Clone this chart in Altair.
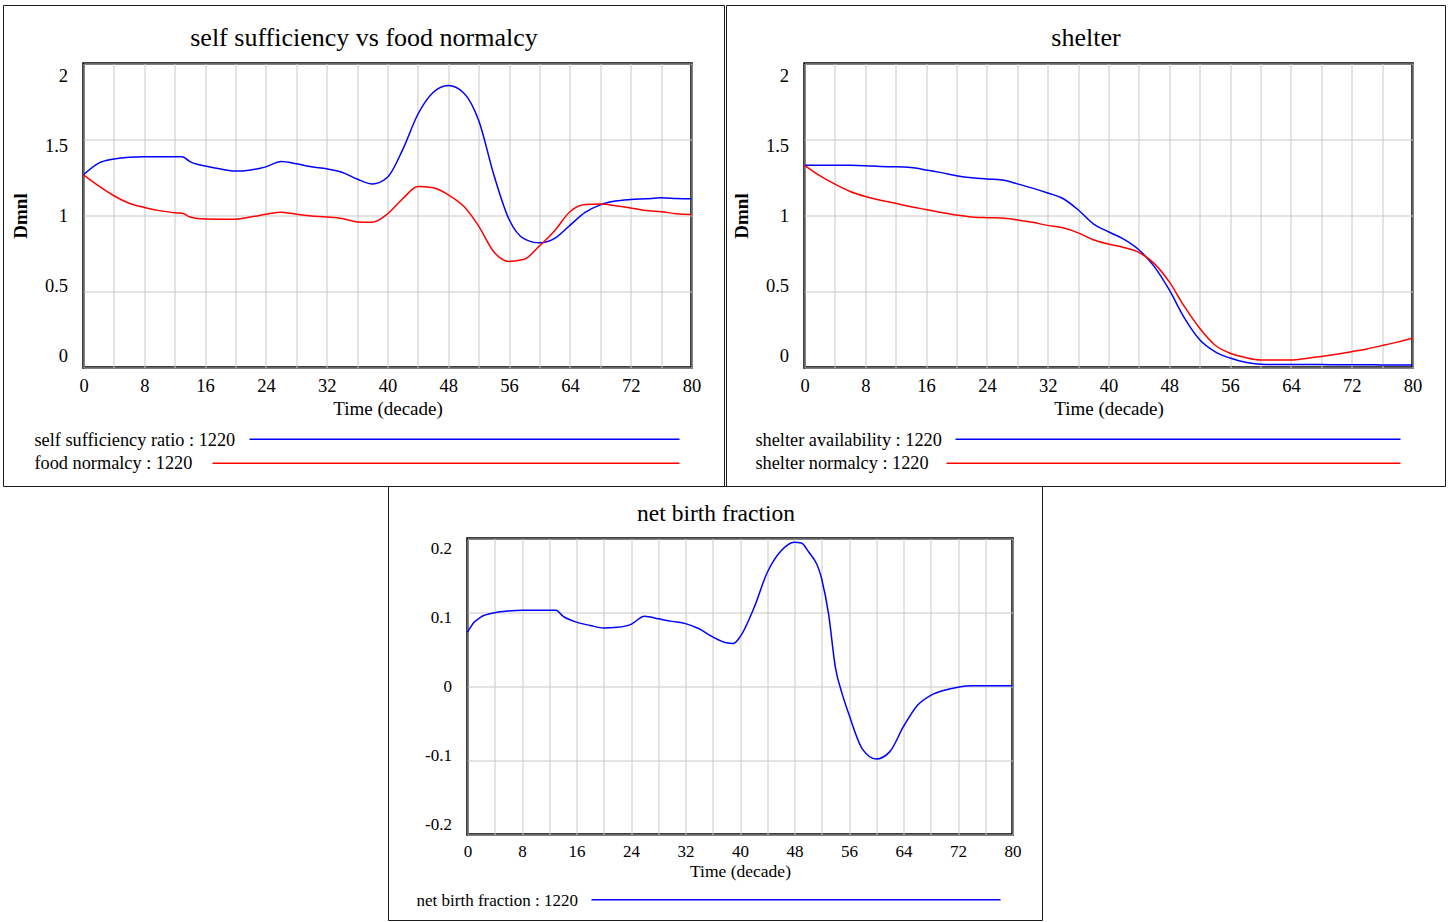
import altair as alt
import pandas as pd

FONT = "Liberation Serif"
BLUE = "#0000ff"
RED = "#ff0000"

# ---------------- data ----------------
# panel 1: self sufficiency vs food normalcy
t_food = [0, 2, 4, 6, 8, 10, 12, 13, 14, 16, 18, 20, 22, 24, 26, 28, 30, 32, 34, 36, 38, 40,
          42, 44, 46, 48, 50, 52, 54, 56, 58, 60, 62, 64, 66, 68, 70, 72, 74, 76, 78, 80]
self_sufficiency_ratio = [1.268, 1.345, 1.372, 1.384, 1.387, 1.387, 1.387, 1.387, 1.355, 1.325,
                          1.306, 1.292, 1.300, 1.320, 1.355, 1.340, 1.320, 1.307, 1.285, 1.240,
                          1.208, 1.252, 1.433, 1.666, 1.809, 1.855, 1.808, 1.625, 1.266, 0.974,
                          0.846, 0.820, 0.850, 0.935, 1.020, 1.070, 1.095, 1.105, 1.110, 1.116,
                          1.112, 1.110]
food_normalcy = [1.268, 1.195, 1.130, 1.081, 1.053, 1.032, 1.018, 1.015, 0.990, 0.977, 0.976,
                 0.976, 0.990, 1.008, 1.022, 1.008, 0.997, 0.990, 0.980, 0.958, 0.955, 1.010,
                 1.110, 1.190, 1.182, 1.136, 1.062, 0.930, 0.760, 0.698, 0.712, 0.800, 0.900,
                 1.025, 1.072, 1.075, 1.064, 1.050, 1.033, 1.025, 1.012, 1.007]

# panel 2: shelter
t_shelter = [0, 2, 4, 6, 8, 10, 12, 14, 16, 18, 20, 22, 24, 26, 28, 30, 32, 34, 36, 38, 40,
             42, 44, 46, 48, 50, 52, 54, 56, 58, 60, 62, 64, 66, 68, 70, 72, 74, 76, 78, 80]
shelter_availability = [1.330, 1.330, 1.330, 1.330, 1.328, 1.322, 1.321, 1.316, 1.300, 1.282,
                        1.262, 1.248, 1.240, 1.234, 1.208, 1.180, 1.148, 1.112, 1.038, 0.945,
                        0.893, 0.845, 0.775, 0.665, 0.510, 0.325, 0.183, 0.105, 0.062, 0.034,
                        0.022, 0.020, 0.020, 0.019, 0.019, 0.018, 0.018, 0.018, 0.017, 0.017,
                        0.017]
shelter_normalcy = [1.330, 1.262, 1.206, 1.158, 1.125, 1.100, 1.080, 1.058, 1.039, 1.020, 1.003,
                    0.990, 0.986, 0.984, 0.971, 0.955, 0.935, 0.919, 0.886, 0.840, 0.812, 0.790,
                    0.757, 0.685, 0.563, 0.400, 0.258, 0.148, 0.094, 0.066, 0.050, 0.050, 0.050,
                    0.060, 0.072, 0.087, 0.104, 0.122, 0.144, 0.167, 0.193]

# panel 3: net birth fraction
t_birth = [0, 1, 2, 4, 6, 8, 10, 12, 13, 14, 16, 18, 20, 22, 24, 26, 28, 30, 32, 34, 36, 38, 39,
           40, 42, 44, 46, 48, 49, 50, 52, 53, 54, 55, 56, 58, 60, 62, 64, 66, 68, 70, 72, 74,
           76, 78, 80]
net_birth_fraction = [0.0735, 0.087, 0.094, 0.0996, 0.102, 0.103, 0.103, 0.103, 0.103, 0.095,
                      0.087, 0.0825, 0.079, 0.080, 0.084, 0.095, 0.0915, 0.088, 0.085, 0.078,
                      0.067, 0.059, 0.058, 0.067, 0.105, 0.154, 0.183, 0.195, 0.194, 0.183,
                      0.145, 0.098, 0.026, -0.010, -0.038, -0.085, -0.098, -0.088, -0.054,
                      -0.026, -0.012, -0.005, -0.001, 0.001, 0.001, 0.001, 0.001]

titles = ["self sufficiency vs food normalcy", "shelter", "net birth fraction"]
series_food = ["self sufficiency ratio : 1220", "food normalcy : 1220"]
series_shelter = ["shelter availability : 1220", "shelter normalcy : 1220"]
series_birth = ["net birth fraction : 1220"]
x_ticks = list(range(0, 81, 4))
y_ticks_top = [0, 0.5, 1, 1.5, 2]
y_ticks_bottom = [-0.2, -0.1, 0, 0.1, 0.2]
x_title = "Time (decade)"
y_title = "Dmnl"


def long_df(t, series):
    rows = []
    for name, vals in series:
        for ti, vi in zip(t, vals):
            rows.append({"t": ti, "v": vi, "s": name})
    return pd.DataFrame(rows)


def one():
    return alt.Data(values=[{"k": 0}])


def offset_cond(pairs):
    return {"condition": [{"test": f"datum.value == {v}", "value": o} for v, o in pairs],
            "value": 0}


def panel(df, names, colors, title, W, H, frame, title_xy, title_size, ydom, yvals, yoff,
          ytitle, fs_lab, fs_title, x_lab_pad, x_title_pad, legend_rows, legend_fs, legend_x):
    fx1, fx2, fy1, fy2 = frame
    layers = [
        alt.Chart(one()).mark_rect(fillOpacity=0, stroke="#1a1a1a", strokeWidth=1).encode(
            x=alt.value(fx1), x2=alt.value(fx2), y=alt.value(fy1), y2=alt.value(fy2)),
        alt.Chart(one()).mark_text(text=title, font=FONT, fontSize=title_size, align="center",
                                   baseline="alphabetic", color="black").encode(
            x=alt.value(title_xy[0]), y=alt.value(title_xy[1])),
    ]
    yax = dict(values=yvals, labelExpr="'' + datum.value", labelFont=FONT, labelFontSize=fs_lab,
               labelPadding=16, labelOffset=yoff, title=ytitle)
    if ytitle:
        yax.update(titleFont=FONT, titleFontSize=fs_title, titleFontWeight="bold",
                   titlePadding=14)
    xax = dict(values=x_ticks,
               labelExpr="datum.value % 8 == 0 ? '' + datum.value : ''",
               labelFont=FONT, labelFontSize=fs_lab, labelPadding=x_lab_pad,
               title=x_title, titleFont=FONT, titleFontSize=fs_title, titleFontWeight="normal",
               titlePadding=x_title_pad)
    lines = alt.Chart(df).mark_line(strokeWidth=1.5, interpolate="monotone").encode(
        x=alt.X("t:Q", scale=alt.Scale(domain=[0, 80], nice=False, zero=False),
                axis=alt.Axis(**xax)),
        y=alt.Y("v:Q", scale=alt.Scale(domain=ydom, nice=False, zero=False),
                axis=alt.Axis(**yax)),
        color=alt.Color("s:N", scale=alt.Scale(domain=names, range=colors), legend=None),
    )
    layers.append(lines)
    for (name, color, ty, ly, lx1, lx2) in legend_rows:
        layers.append(alt.Chart(one()).mark_text(text=name, font=FONT, fontSize=legend_fs,
                                                 align="left", baseline="alphabetic",
                                                 color="black").encode(
            x=alt.value(legend_x), y=alt.value(ty)))
        layers.append(alt.Chart(one()).mark_rule(color=color, strokeWidth=1.5).encode(
            x=alt.value(lx1), x2=alt.value(lx2), y=alt.value(ly)))
    return alt.layer(*layers).properties(width=W, height=H)


df1 = long_df(t_food, [(series_food[0], self_sufficiency_ratio), (series_food[1], food_normalcy)])
df2 = long_df(t_shelter, [(series_shelter[0], shelter_availability),
                          (series_shelter[1], shelter_normalcy)])
df3 = long_df(t_birth, [(series_birth[0], net_birth_fraction)])

top_off = offset_cond([(0, -12), (0.5, -6), (1.5, 6), (2, 12)])
bot_off = offset_cond([(-0.2, -9.6), (-0.1, -4.8), (0.1, 4.8), (0.2, 9.6)])

p1 = panel(df1, series_food, [BLUE, RED], titles[0], 608, 304, (-80, 641, -58, 423),
           (280.5, -18), 26, [0, 2], y_ticks_top, top_off, y_title, 18.5, 19, 9, 4,
           [(series_food[0], BLUE, 382.7, 375.7, 166, 596),
            (series_food[1], RED, 405.3, 399.7, 129, 596)], 18.3, -49)
p2 = panel(df2, series_shelter, [BLUE, RED], titles[1], 608, 304, (-78, 641, -58, 423),
           (281.5, -18), 26, [0, 2], y_ticks_top, top_off, y_title, 18.5, 19, 9, 4,
           [(series_shelter[0], BLUE, 382.7, 375.7, 151, 596),
            (series_shelter[1], RED, 405.3, 399.7, 142, 596)], 18.3, -49)
p3 = panel(df3, series_birth, [BLUE], titles[2], 545, 296, (-79, 575, -52, 382),
           (248.5, -17.3), 23.5, [-0.2, 0.2], y_ticks_bottom, bot_off, "", 17, 17.5, 8.5, 3.5,
           [(series_birth[0], BLUE, 367.7, 361.3, 124, 533)], 17, -51)

spacer = alt.Chart(one()).mark_rule(opacity=0, strokeWidth=0.01).encode(
    x=alt.value(10), y=alt.value(1)).properties(
    width=303, height=10, view=alt.ViewBackground(stroke="transparent", strokeWidth=0))

top = alt.hconcat(p1, p2, spacing=-2)
bottom = alt.hconcat(spacer, p3, spacing=0)

chart = alt.vconcat(top, bottom, spacing=-4).properties(
    padding={"left": 1.5, "top": 3.5, "right": 0, "bottom": 0},
    background="white",
).configure_view(
    stroke="black", strokeWidth=2.5
).configure_axis(
    grid=True, gridColor="#c8c8c8", gridWidth=1, domain=False, ticks=False, tickSize=0,
    labelColor="black", titleColor="black", labelFlush=False, labelOverlap=False,
)

chart.save("out.html", embed_options={"renderer": "svg", "actions": False})
